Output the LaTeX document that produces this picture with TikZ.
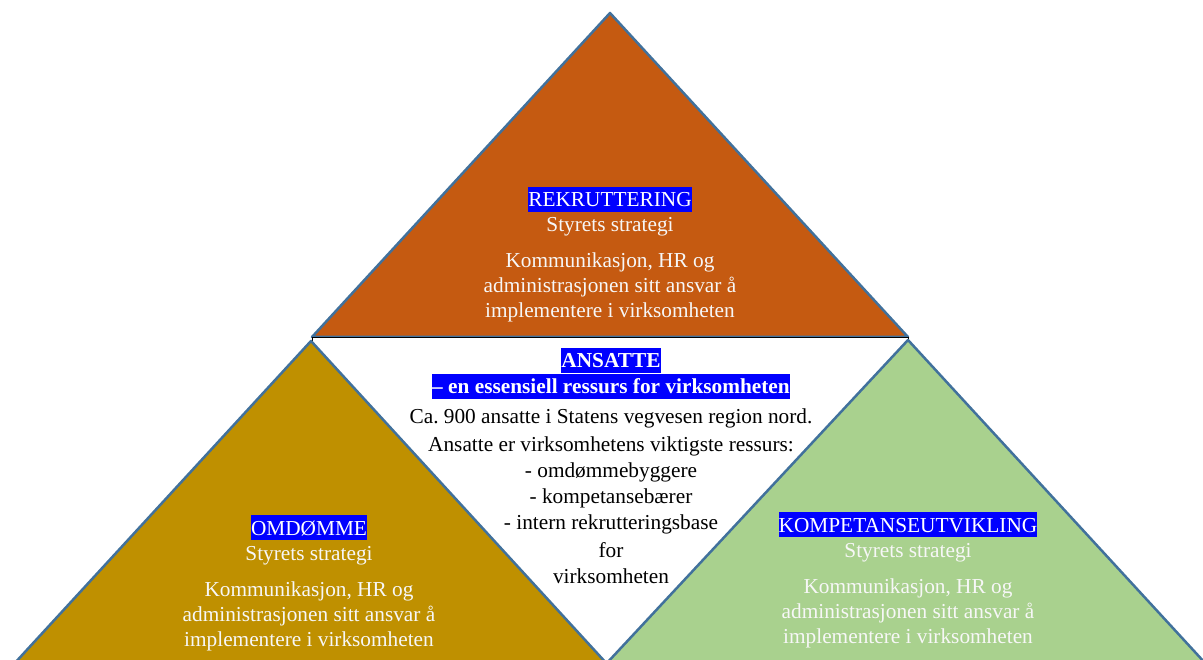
\documentclass[tikz,border=0pt]{standalone}
\usepackage{fontspec}
\setmainfont{Liberation Serif}
\frenchspacing
\definecolor{rekrfill}{HTML}{C55A11}
\definecolor{omdfill}{HTML}{BF9000}
\definecolor{kompfill}{HTML}{A9D18E}
\definecolor{edgeblue}{HTML}{41719C}
\definecolor{hlblue}{HTML}{0000FF}
\definecolor{paletext}{HTML}{F7F7F7}
% blue highlight behind a heading, spanning the full line height
\newcommand\hilite[1]{{\setlength{\fboxsep}{0pt}\colorbox{hlblue}{\rule[-4.7pt]{0pt}{25pt}\textcolor{white}{#1}}}}
\begin{document}
\begin{tikzpicture}[x=1pt,y=-1pt,
  tri/.style={draw=edgeblue, line width=2.5pt, line join=round},
  txtline/.style={anchor=base, inner sep=0pt, font=\fontsize{21.3}{25}\selectfont},
  light/.style={txtline, text=paletext},
  dark/.style={txtline, text=black}]
\useasboundingbox (0,0) rectangle (1203,660);
\clip (0,0) rectangle (1203,660);

% corner points of the three triangles
\coordinate (ta) at (610,13);  \coordinate (tl) at (312,337); \coordinate (tr) at (908,337);
\coordinate (la) at (311,341); \coordinate (ll) at (13,665);  \coordinate (lr) at (608,665);
\coordinate (ra) at (908,340); \coordinate (rl) at (606,664); \coordinate (rr) at (1206,664);

% upper triangle
\fill[rekrfill] (ta) -- (tl) -- (tr) -- cycle;
\draw[tri] (ta) -- (tl) -- (tr) -- cycle;

% central white text box
\draw[fill=white, draw=black, line width=1pt] (312,337.5) rectangle (908,700);

% lower left and lower right triangles
\fill[omdfill] (la) -- (ll) -- (lr) -- cycle;
\draw[tri] (la) -- (ll) -- (lr) -- cycle;
\fill[kompfill] (ra) -- (rl) -- (rr) -- cycle;
\draw[tri] (ra) -- (rl) -- (rr) -- cycle;

% upper triangle text
\node[light] (t1) at (610,207) {\hilite{REKRUTTERING}};
\node[light] (t2) at (610,232) {Styrets strategi};
\node[light] (t3) at (610,268) {Kommunikasjon, HR og};
\node[light] (t4) at (610,293) {administrasjonen sitt ansvar å};
\node[light] (t5) at (610,318) {implementere i virksomheten};

% lower left triangle text
\node[light] (l1) at (309,535) {\hilite{OMDØMME}};
\node[light] (l2) at (309,560) {Styrets strategi};
\node[light] (l3) at (309,596) {Kommunikasjon, HR og};
\node[light] (l4) at (309,621) {administrasjonen sitt ansvar å};
\node[light] (l5) at (309,646) {implementere i virksomheten};

% lower right triangle text
\node[light] (r1) at (908,532) {\hilite{KOMPETANSEUTVIKLING}};
\node[light] (r2) at (908,557) {Styrets strategi};
\node[light] (r3) at (908,593) {Kommunikasjon, HR og};
\node[light] (r4) at (908,618) {administrasjonen sitt ansvar å};
\node[light] (r5) at (908,643) {implementere i virksomheten};

% central text
\node[dark] (c1) at (611,368) {\hilite{\bfseries ANSATTE}};
\node[dark] (c2) at (611,394) {\hilite{\bfseries – en essensiell ressurs for virksomheten}};
\node[dark] (c3) at (611,424) {Ca. 900 ansatte i Statens vegvesen region nord.};
\node[dark] (c4) at (611,451) {Ansatte er virksomhetens viktigste ressurs:};
\node[dark] (c5) at (611,477) {- omdømmebyggere};
\node[dark] (c6) at (611,503) {- kompetansebærer};
\node[dark] (c7) at (611,529) {- intern rekrutteringsbase};
\node[dark] (c8) at (611,557) {for};
\node[dark] (c9) at (611,583) {virksomheten};
\end{tikzpicture}
\end{document}
